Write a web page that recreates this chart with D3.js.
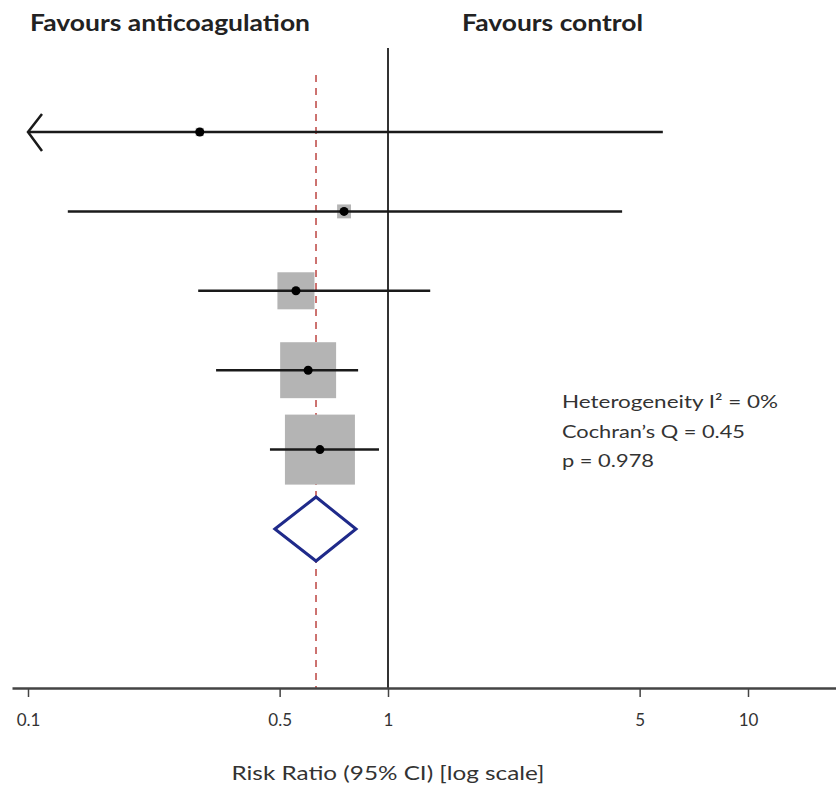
<!DOCTYPE html>
<html><head><meta charset="utf-8">
<script src="https://cdn.jsdelivr.net/npm/d3@7"></script>
<style>body{margin:0;background:#fff}svg{display:block}</style>
</head><body>
<script>
// Data
const studies = ["Study 1","Study 2","Study 3","Study 4","Study 5"];
const rr = [0.30, 0.755, 0.555, 0.60, 0.647];
const lower = [0.1, 0.129, 0.297, 0.333, 0.47];
const upper = [5.8, 4.47, 1.31, 0.826, 0.944];
const truncatedLow = [true, false, false, false, false];
const weights = [0.7, 2.0, 14.2, 32.4, 50.7];
const pooled = {est: 0.631, lo: 0.485, hi: 0.815};
const tickValues = [0.1, 0.5, 1, 5, 10];
const statsText = ["Heterogeneity I\u00B2 = 0%", "Cochran\u2019s Q = 0.45", "p = 0.978"];
const statsWidth = [216, 183, 92];

const W = 836, H = 788;
const svg = d3.select("body").append("svg").attr("width", W).attr("height", H);
const font = "Lato, 'Open Sans', sans-serif";

const x0 = d3.scaleLog().domain([0.1, 10]).range([28, 748]);
const x = d3.scaleLog().domain([x0.invert(12), x0.invert(836)]).range([12, 836]);
const rows = [...studies, "Pooled"];
const y = d3.scalePoint().domain(rows).range([132, 529]);
const side = d3.scaleSqrt().domain([0, 50.7]).range([0, 70]);
const axisY = 688;

// headers
svg.append("text").attr("x", 30).attr("y", 31).text("Favours anticoagulation")
  .attr("font-family", font).attr("font-weight", "bold").attr("font-size", 22)
  .attr("textLength", 280).attr("lengthAdjust", "spacingAndGlyphs").attr("fill", "#222");
svg.append("text").attr("x", 462).attr("y", 31).text("Favours control")
  .attr("font-family", font).attr("font-weight", "bold").attr("font-size", 22)
  .attr("textLength", 181).attr("lengthAdjust", "spacingAndGlyphs").attr("fill", "#222");

// null line
svg.append("line").attr("x1", x(1)).attr("x2", x(1)).attr("y1", 48).attr("y2", axisY)
  .attr("stroke", "#333").attr("stroke-width", 2);
// pooled dashed line
svg.append("line").attr("x1", x(pooled.est)).attr("x2", x(pooled.est)).attr("y1", 75).attr("y2", axisY)
  .attr("stroke", "#c0504d").attr("stroke-width", 1.6).attr("stroke-dasharray", "7,6");

// squares
const g = svg.append("g");
studies.forEach((s, i) => {
  const cy = y(s), sz = side(weights[i]);
  g.append("rect").attr("x", x(rr[i]) - sz / 2).attr("y", cy - sz / 2)
    .attr("width", sz).attr("height", sz).attr("fill", "#b4b4b4");
});
studies.forEach((s, i) => {
  const cy = y(s);
  g.append("line").attr("x1", x(lower[i])).attr("x2", x(upper[i])).attr("y1", cy).attr("y2", cy)
    .attr("stroke", "#1a1a1a").attr("stroke-width", 2.5);
  if (truncatedLow[i]) {
    const ax = x(lower[i]);
    g.append("path").attr("d", `M${ax + 14},${cy - 18} L${ax},${cy} L${ax + 14},${cy + 19}`)
      .attr("fill", "none").attr("stroke", "#1a1a1a").attr("stroke-width", 2.5);
  }
  g.append("circle").attr("cx", x(rr[i])).attr("cy", cy).attr("r", 4.5).attr("fill", "#000");
});

// diamond
const py = y("Pooled"), dh = 32;
svg.append("path")
  .attr("d", `M${x(pooled.lo)},${py} L${x(pooled.est)},${py - dh} L${x(pooled.hi)},${py} L${x(pooled.est)},${py + dh} Z`)
  .attr("fill", "#fff").attr("stroke", "#1f2a8a").attr("stroke-width", 3);

// stats
statsText.forEach((t, i) => {
  svg.append("text").attr("x", 562).attr("y", 408 + i * 29.5).text(t)
    .attr("font-family", font).attr("font-size", 18).attr("fill", "#333")
    .attr("textLength", statsWidth[i]).attr("lengthAdjust", "spacingAndGlyphs");
});

// axis
const axis = d3.axisBottom(x).tickValues(tickValues).tickFormat(d3.format(""))
  .tickSize(9).tickSizeOuter(0).tickPadding(17);
const ag = svg.append("g").attr("transform", `translate(0,${axisY})`).call(axis);
ag.select(".domain").attr("stroke", "#444").attr("stroke-width", 2.5);
ag.selectAll(".tick line").attr("stroke", "#444").attr("stroke-width", 1.5);
ag.selectAll(".tick text").attr("font-family", font).attr("font-size", 17).attr("fill", "#333");

svg.append("text").attr("x", x(1)).attr("y", 780).attr("text-anchor", "middle")
  .text("Risk Ratio (95% CI) [log scale]").attr("font-family", font).attr("font-size", 19)
  .attr("textLength", 313).attr("lengthAdjust", "spacingAndGlyphs").attr("fill", "#333");
</script>
</body></html>
